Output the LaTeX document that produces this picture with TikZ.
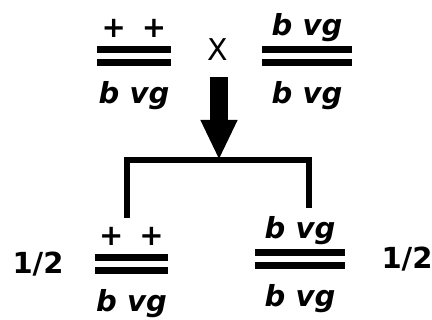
\documentclass[tikz,border=0pt]{standalone}
\usepackage{fontspec}
\setmainfont{DejaVu Sans}
\usetikzlibrary{arrows.meta}
\tikzset{
  bar/.style={line width=6.5pt},
  tree/.style={line width=6pt},
  allele/.style={font=\fontsize{29}{29}\selectfont\bfseries\itshape, inner sep=0pt},
  frac/.style={font=\fontsize{29}{29}\selectfont\bfseries, inner sep=0pt},
  bigarrow/.style={line width=18pt, -{Triangle[width=34pt,length=40pt]}}
}
\begin{document}
\begin{tikzpicture}[x=1pt,y=-1pt]
    \useasboundingbox (0,0) rectangle (432,320);
    % chromosome pairs: name/x/y/width/upper allele
    \foreach \n/\x/\y/\w/\up in {pa/134/56/74/{+\hspace{16pt}+}, pb/307/56/90/{b vg}, ca/131.5/264/73/{+\hspace{16pt}+}, cb/300/259/90/{b vg}}{
        \draw [bar] (\x-\w/2,\y-6.3) -- (\x+\w/2,\y-6.3);
        \draw [bar] (\x-\w/2,\y+6.3) -- (\x+\w/2,\y+6.3);
        \node [allele] (\n-up) at (\x,\y-28) {\up};
        \node [allele] (\n-dn) at (\x,\y+40) {b vg};
    }
    \node [font=\fontsize{30}{30}\selectfont, inner sep=0pt] (cross) at (218,50) {X};
    \coordinate (shaft) at (219,77);
    \coordinate (fork) at (219,160);
    \coordinate (legl) at (127,218);
    \coordinate (legr) at (309,208);
    \draw [bigarrow] (shaft) -- (fork);
    \draw [tree] (legl) |- (fork) -| (legr);
    \node [frac] (ha) at (38,264) {1/2};
    \node [frac] (hb) at (407,259) {1/2};
\end{tikzpicture}
\end{document}
